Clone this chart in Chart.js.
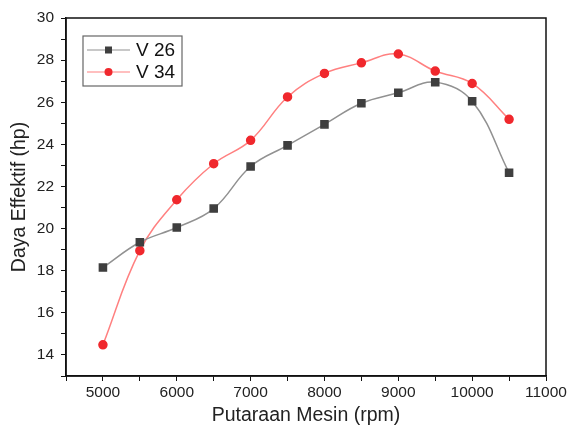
<!DOCTYPE html>
<html>
<head>
<meta charset="utf-8">
<script src="https://cdn.jsdelivr.net/npm/chart.js@4/dist/chart.umd.min.js"></script>
<style>
  html, body { margin: 0; padding: 0; background: #fff; }
  #wrap { width: 571px; height: 427px; }
</style>
</head>
<body>
<div id="wrap"><canvas id="daya_line"></canvas></div>
<script>
const rpm = [5000, 5500, 6000, 6500, 7000, 7500, 8000, 8500, 9000, 9500, 10000, 10500];
const v26 = [18.15, 19.35, 20.05, 20.95, 22.95, 23.95, 24.95, 25.95, 26.45, 26.95, 26.05, 22.65];
const v34 = [14.48, 18.95, 21.37, 23.08, 24.19, 26.25, 27.37, 27.87, 28.29, 27.48, 26.89, 25.19];
const seriesNames = ['V 26', 'V 34'];

const daya_line = document.getElementById('daya_line');

// frame round the plot + legend box inside the plot
const framePlugin = {
  id: 'frame',
  afterDatasetsDraw(chart){
    const ctx = chart.ctx;
    const a = chart.chartArea;
    ctx.save();
    ctx.strokeStyle = '#111';
    ctx.lineWidth = 1.5;
    ctx.strokeRect(a.left, a.top, a.right - a.left, a.bottom - a.top);

    // legend
    const bx = a.left + 17, by = a.top + 18, bw = 99, bh = 50;
    ctx.fillStyle = '#fff';
    ctx.fillRect(bx, by, bw, bh);
    ctx.strokeStyle = '#666';
    ctx.lineWidth = 1.2;
    ctx.strokeRect(bx, by, bw, bh);
    chart.data.datasets.forEach((ds, i) => {
      const y = by + 14 + i * 22;
      ctx.strokeStyle = ds.borderColor;
      ctx.lineWidth = 1.2;
      ctx.beginPath();
      ctx.moveTo(bx + 4, y);
      ctx.lineTo(bx + 47, y);
      ctx.stroke();
      ctx.fillStyle = ds.pointBackgroundColor;
      if(ds.pointStyle === 'rect'){
        ctx.fillRect(bx + 22, y - 3.5, 7, 7);
      } else {
        ctx.beginPath();
        ctx.arc(bx + 25.5, y, 4, 0, Math.PI * 2);
        ctx.fill();
      }
      ctx.fillStyle = '#111';
      ctx.font = '19px "Liberation Sans", Arial, sans-serif';
      ctx.textBaseline = 'middle';
      ctx.fillText(ds.label, bx + 53, y + 1);
    });
    ctx.restore();
  }
};

function drawLineDaya(el){
  if(!el) return;

  const data = {
    labels: rpm,
    datasets: [
      {
        label: seriesNames[0],
        data: rpm.map((x, i) => ({x: x, y: v26[i]})),
        borderColor: '#919191',
        backgroundColor: '#3f3f3f',
        pointBackgroundColor: '#3f3f3f',
        pointBorderColor: '#3f3f3f',
        pointStyle: 'rect',
        pointRadius: 5,
        borderWidth: 1.5,
        tension: 0.4
      },
      {
        label: seriesNames[1],
        data: rpm.map((x, i) => ({x: x, y: v34[i]})),
        borderColor: '#ff8080',
        backgroundColor: '#f0282d',
        pointBackgroundColor: '#f0282d',
        pointBorderColor: '#f0282d',
        pointStyle: 'circle',
        pointRadius: 4,
        borderWidth: 1.5,
        tension: 0.4
      }
    ]
  };

  const tickFont = { family: '"Liberation Sans", Arial, sans-serif', size: 15.5 };
  const titleFont = { family: '"Liberation Sans", Arial, sans-serif', size: 19.5 };

  const config = {
    type: 'line',
    data: data,
    options: {
      responsive: true,
      maintainAspectRatio: false,
      animation: false,
      layout: {
        padding: { top: 18, right: 25, left: 0, bottom: 0 }
      },
      scales: {
        x: {
          type: 'linear',
          min: 4500,
          max: 11000,
          afterFit(scale){ scale.height = 51; },
          ticks: {
            stepSize: 500,
            autoSkip: false,
            maxRotation: 0,
            color: '#222',
            font: tickFont,
            padding: 2,
            callback: (v) => (v % 1000 === 0 ? String(v) : '')
          },
          grid: {
            drawOnChartArea: false,
            tickLength: 5,
            tickColor: '#111'
          },
          border: { color: '#111', width: 1.5 },
          title: {
            display: true,
            text: 'Putaraan Mesin (rpm)',
            color: '#222',
            font: titleFont,
            padding: { top: 4, bottom: 0 }
          }
        },
        y: {
          min: 13,
          max: 30,
          afterFit(scale){ scale.width = 66; },
          ticks: {
            stepSize: 1,
            autoSkip: false,
            color: '#222',
            font: tickFont,
            padding: 7,
            callback: (v) => (v % 2 === 0 ? String(v) : '')
          },
          grid: {
            drawOnChartArea: false,
            tickLength: 5,
            tickColor: '#111'
          },
          border: { color: '#111', width: 1.5 },
          title: {
            display: true,
            text: 'Daya Effektif (hp)',
            color: '#222',
            font: titleFont,
            padding: { top: 8, bottom: 0 }
          }
        }
      },
      plugins: {
        legend: { display: false },
        title: { display: false },
        tooltip: { enabled: false }
      }
    },
    plugins: [framePlugin]
  };

  new Chart(el, config);
}

drawLineDaya(daya_line);
</script>
</body>
</html>
